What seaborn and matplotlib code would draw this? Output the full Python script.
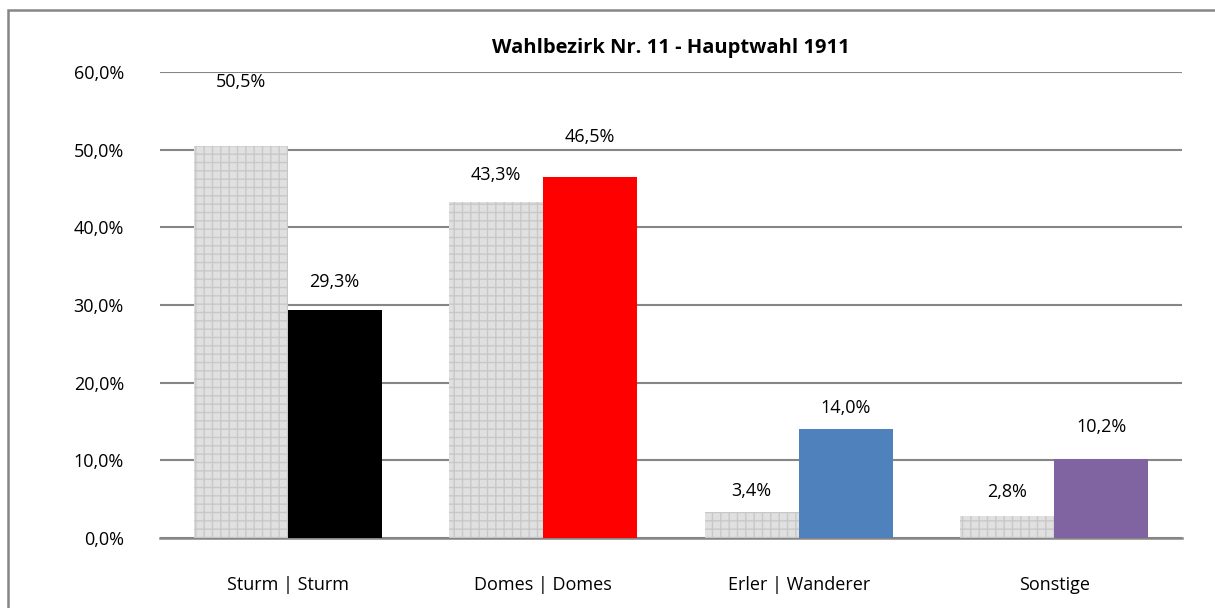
import pandas as pd
import seaborn as sns
import matplotlib.pyplot as plt
from matplotlib.patches import Rectangle

categories = ["Sturm | Sturm", "Domes | Domes", "Erler | Wanderer", "Sonstige"]
vorwahl = [50.5, 43.3, 3.4, 2.8]
hauptwahl = [29.3, 46.5, 14.0, 10.2]
haupt_colors = ["#000000", "#ff0000", "#4f81bd", "#8064a2"]
yticks = [0, 10, 20, 30, 40, 50, 60]

df = pd.DataFrame({
    "kandidat": categories * 2,
    "wert": vorwahl + hauptwahl,
    "serie": ["Vorwahl"] * 4 + ["Hauptwahl"] * 4,
})

sns.set_style("white")
plt.rcParams["font.family"] = ["Open Sans", "DejaVu Sans"]
plt.rcParams["text.color"] = "black"
plt.rcParams["xtick.color"] = "black"
plt.rcParams["ytick.color"] = "black"
plt.rcParams["hatch.color"] = "#c8c8c8"
plt.rcParams["hatch.linewidth"] = 1.0

fig = plt.figure(figsize=(12.15, 6.08), dpi=100)
ax = fig.add_axes([160 / 1215, 1 - 538 / 608, 1022 / 1215, 466 / 608])

sns.barplot(data=df, x="kandidat", y="wert", hue="serie", ax=ax,
            width=0.735, palette=["#e0e0e0", "#000000"], saturation=1,
            legend=False, zorder=3)

vor_bars = ax.containers[0]
haupt_bars = ax.containers[1]
for b in vor_bars:
    b.set_hatch("++")
    b.set_edgecolor("#c8c8c8")
    b.set_linewidth(0)
for b, c in zip(haupt_bars, haupt_colors):
    b.set_facecolor(c)
    b.set_linewidth(0)

# label offsets (points) as placed in the original chart
vor_pad = [39.5, 13, 8.7, 10.8]
haupt_pad = [13.7, 22.4, 8.7, 16.6]

fmt = lambda v: f"{v:.1f}%".replace(".", ",")
for bars, vals, pads in [(vor_bars, vorwahl, vor_pad), (haupt_bars, hauptwahl, haupt_pad)]:
    for b, v, p in zip(bars, vals, pads):
        ax.annotate(fmt(v), (b.get_x() + b.get_width() / 2, b.get_height()),
                    xytext=(0, p), textcoords="offset points",
                    ha="center", va="bottom", fontsize=13)

ax.set_ylim(0, 60)
ax.set_yticks(yticks)
ax.set_yticklabels([f"{t:.1f}%".replace(".", ",") for t in yticks], fontsize=13)
ax.yaxis.grid(True, color="#868686", linewidth=1.5, zorder=0)
ax.set_axisbelow(True)
ax.tick_params(axis="y", length=0, pad=26)
ax.tick_params(axis="x", length=0, pad=27, labelsize=13)
ax.set_xlabel("")
ax.set_ylabel("")
for s in ["left", "right", "top"]:
    ax.spines[s].set_visible(False)
ax.spines["bottom"].set_color("#868686")
ax.spines["bottom"].set_linewidth(1.8)
ax.set_xlim(-0.5, 3.5)

fig.text(0.5 * (160 + 1182) / 1215, 1 - 48 / 608, "Wahlbezirk Nr. 11 - Hauptwahl 1911",
         ha="center", va="center", fontsize=14.5, fontweight="bold")

fig.patches.append(Rectangle((8 / 1215, -0.1), 1.2, 1.1 - 10 / 608, transform=fig.transFigure,
                             fill=False, edgecolor="#868686", linewidth=1.8))

fig.savefig("out.png", dpi=100)
